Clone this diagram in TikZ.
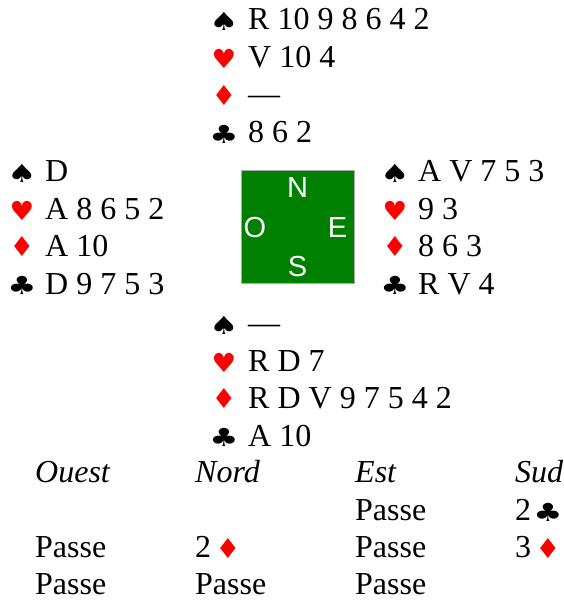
\documentclass[tikz,border=0pt]{standalone}
\usepackage{fontspec}
\setmainfont{Liberation Serif}
\newfontfamily\suitfont{DejaVu Sans}
\newfontfamily\dirfont{Liberation Sans}
\definecolor{felt}{RGB}{0,128,0}
\definecolor{suitred}{RGB}{255,0,0}
\definecolor{boxedge}{RGB}{170,170,170}
\newcommand{\Sp}{\scalebox{1.3}[1]{♠}}
\newcommand{\Hc}{\scalebox{1.1}[1.05]{♥}}
\newcommand{\Di}{\scalebox{1.1}[1.1]{♦}}
\newcommand{\Cl}{\scalebox{1.3}[1]{♣}}
\begin{document}
\begin{tikzpicture}[x=1pt,y=-1pt,
  card/.style={anchor=base west,inner sep=0pt,font=\fontsize{32}{38}\selectfont},
  bid/.style={anchor=base west,inner sep=0pt,font=\fontsize{32}{38}\selectfont},
  bidhead/.style={anchor=base west,inner sep=0pt,font=\fontsize{32}{38}\selectfont\itshape},
  suit/.style={anchor=base,inner sep=0pt,font=\suitfont\fontsize{25}{30}\selectfont},
  blk/.style={suit,text=black},
  redsuit/.style={suit,text=suitred},
  dir/.style={anchor=center,inner sep=0pt,text=white,font=\dirfont\fontsize{29}{32}\selectfont}]
\useasboundingbox (0,0) rectangle (564,600);
% North
\node[blk] (ns) at (224,30) {\Sp};
\node[card] (nst) at (248,29) {R 10 9 8 6 4 2};
\node[redsuit] (nh) at (224,68) {\Hc};
\node[card] (nht) at (248,67) {V 10 4};
\node[redsuit] (nd) at (224,105) {\Di};
\node[card] (ndt) at (248,104.5) {—};
\node[blk] (nc) at (224,143) {\Cl};
\node[card] (nct) at (248,142) {8 6 2};
% West
\node[blk] (ws) at (22,182) {\Sp};
\node[card] (wst) at (45,181) {D};
\node[redsuit] (wh) at (22,220) {\Hc};
\node[card] (wht) at (45,219) {A 8 6 5 2};
\node[redsuit] (wd) at (22,256) {\Di};
\node[card] (wdt) at (45,256) {A 10};
\node[blk] (wc) at (22,294) {\Cl};
\node[card] (wct) at (45,294) {D 9 7 5 3};
% East
\node[blk] (es) at (395,182) {\Sp};
\node[card] (est) at (418,181) {A V 7 5 3};
\node[redsuit] (eh) at (395,220) {\Hc};
\node[card] (eht) at (418,219) {9 3};
\node[redsuit] (ed) at (395,256) {\Di};
\node[card] (edt) at (418,256) {8 6 3};
\node[blk] (ec) at (395,294) {\Cl};
\node[card] (ect) at (418,294) {R V 4};
% South
\node[blk] (ss) at (224,334) {\Sp};
\node[card] (sst) at (248,333) {—};
\node[redsuit] (sh) at (224,372) {\Hc};
\node[card] (sht) at (248,371) {R D 7};
\node[redsuit] (sd) at (224,408) {\Di};
\node[card] (sdt) at (248,408) {R D V 9 7 5 4 2};
\node[blk] (sc) at (224,446) {\Cl};
\node[card] (sct) at (248,446) {A 10};
% Table
\draw[boxedge,fill=felt,line width=1pt] (241,170) rectangle (354,283);
\node[dir] (dn) at (297.5,187.5) {N};
\node[dir] (do) at (255,228) {O};
\node[dir] (de) at (337.5,228) {E};
\node[dir] (dsu) at (297.5,266.5) {S};
% Bidding
\node[bidhead] (h1) at (35,482) {Ouest};
\node[bidhead] (h2) at (195,482) {Nord};
\node[bidhead] (h3) at (355,482) {Est};
\node[bidhead] (h4) at (515,482) {Sud};
\node[bid] (r1c3) at (355,520) {Passe};
\node[bid] (r1c4) at (515,520) {2};
\node[blk] (r1c4s) at (548,521) {\Cl};
\node[bid] (r2c1) at (35,557) {Passe};
\node[bid] (r2c2) at (195,557) {2};
\node[redsuit] (r2c2s) at (228,558) {\Di};
\node[bid] (r2c3) at (355,557) {Passe};
\node[bid] (r2c4) at (515,557) {3};
\node[redsuit] (r2c4s) at (548,558) {\Di};
\node[bid] (r3c1) at (35,594) {Passe};
\node[bid] (r3c2) at (195,594) {Passe};
\node[bid] (r3c3) at (355,594) {Passe};
\end{tikzpicture}
\end{document}
